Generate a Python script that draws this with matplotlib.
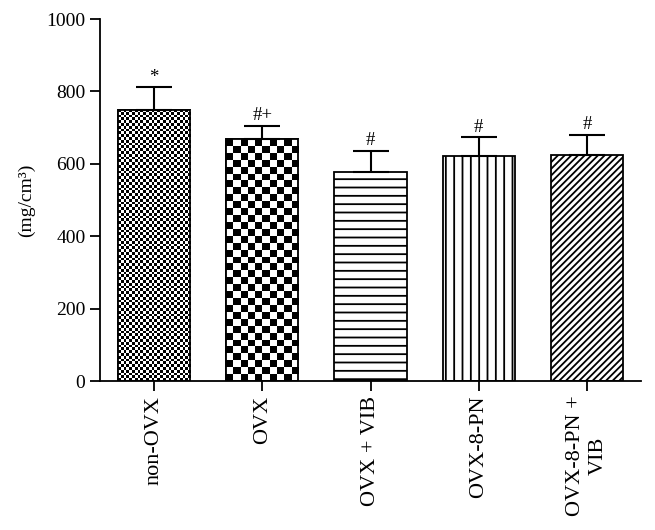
import numpy as np
import matplotlib
matplotlib.use("Agg")
import matplotlib.pyplot as plt

# Values
grupos = ["non-OVX", "OVX", "OVX + VIB", "OVX-8-PN", "OVX-8-PN +\nVIB"]
medias = [749, 668, 578, 622, 625]
desvios = [63, 37, 58, 52, 55]
marcas = ["*", "#+", "#", "#", "#"]

plt.rcParams["font.family"] = ["Liberation Serif", "DejaVu Serif"]
plt.rcParams["hatch.linewidth"] = 1.3

fig = plt.figure(figsize=(6.55, 5.3), dpi=100)
ax = fig.add_axes([100 / 655, 1 - 381 / 530, 541 / 655, 362 / 530])

x = np.arange(len(grupos))
largura = 0.667
hachuras = [None, None, "--", "||", "/////"]
tam_xadrez = [2.8, 7.0]  # tamanho da casa em pixels (barras 0 e 1)

ax.set_xlim(-0.5, 4.5)
ax.set_ylim(0, 1000)

barras = ax.bar(x, medias, width=largura, facecolor="white", edgecolor="black",
                linewidth=1.3, zorder=1)
for b, h in zip(barras, hachuras):
    if h:
        b.set_hatch(h)

# padrão xadrez desenhado como imagem recortada pela barra
for i, cel in enumerate(tam_xadrez):
    b = barras[i]
    x0, y0 = b.get_x(), b.get_y()
    x1, y1 = x0 + b.get_width(), y0 + b.get_height()
    p0 = ax.transData.transform((x0, y0))
    p1 = ax.transData.transform((x1, y1))
    nx = max(1, int(round(abs(p1[0] - p0[0]) / cel)))
    ny = max(1, int(round(abs(p1[1] - p0[1]) / cel)))
    xadrez = (np.add.outer(np.arange(ny), np.arange(nx)) % 2).astype(float)
    im = ax.imshow(xadrez, cmap="gray", extent=(x0, x1, y0, y1), aspect="auto",
                   interpolation="nearest", zorder=1.5, vmin=0, vmax=1)
    im.set_clip_path(b)
    ax.bar(x[i], medias[i], width=largura, fill=False, edgecolor="black",
           linewidth=1.3, zorder=2)

ax.set_xlim(-0.5, 4.5)
ax.set_ylim(0, 1000)

ax.errorbar(x, medias, yerr=[np.zeros(len(x)), desvios], fmt="none",
            ecolor="black", elinewidth=1.5, capsize=13, capthick=1.5, zorder=3)

for xi, m, d, s in zip(x, medias, desvios, marcas):
    ax.annotate(s, (xi, m + d), xytext=(0, 1), textcoords="offset points",
                ha="center", va="bottom", fontsize=13.5)

ax.spines["top"].set_visible(False)
ax.spines["right"].set_visible(False)
ax.spines["left"].set_linewidth(1.3)
ax.spines["bottom"].set_linewidth(1.3)

ax.set_yticks([0, 200, 400, 600, 800, 1000])
ax.tick_params(axis="both", direction="out", length=7, width=1.3, labelsize=14)
ax.set_xticks(x)
ax.set_xticklabels(grupos, rotation=90, fontsize=16)
ax.set_ylabel("(mg/cm³)", fontsize=14, labelpad=8)

fig.savefig("out.png", dpi=100)
